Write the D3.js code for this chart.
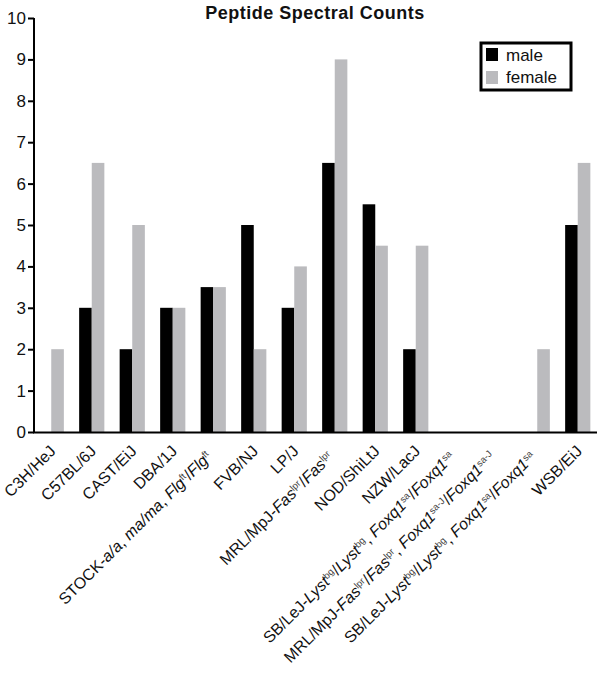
<!DOCTYPE html>
<html>
<head>
<meta charset="utf-8">
<script src="https://cdn.jsdelivr.net/npm/d3@7"></script>
<style>
  body { margin: 0; background: #fff; }
  text { font-family: "Liberation Sans", Arial, sans-serif; }
</style>
</head>
<body>
<div id="chart"></div>
<script>
// _x_ = italic, ^x^ = superscript
const strains = [
  'C3H/HeJ',
  'C57BL/6J',
  'CAST/EiJ',
  'DBA/1J',
  'STOCK-_a/a_, _ma/ma_, _Flg_^ft^/_Flg_^ft^',
  'FVB/NJ',
  'LP/J',
  'MRL/MpJ-_Fas_^lpr^/_Fas_^lpr^',
  'NOD/ShiLtJ',
  'NZW/LacJ',
  'SB/LeJ-_Lyst_^bg^/_Lyst_^bg^, _Foxq1_^sa^/_Foxq1_^sa^',
  'MRL/MpJ-_Fas_^lpr^/_Fas_^lpr^, _Foxq1_^sa-J^/_Foxq1_^sa-J^',
  'SB/LeJ-_Lyst_^bg^/_Lyst_^bg^, _Foxq1_^sa^/_Foxq1_^sa^',
  'WSB/EiJ'
];
const maleCounts = [0, 3, 2, 3, 3.5, 5, 3, 6.5, 5.5, 2, 0, 0, 0, 5];
const femaleCounts = [2, 6.5, 5, 3, 3.5, 2, 4, 9, 4.5, 4.5, 0, 0, 2, 6.5];
const series = ['male', 'female'];
const yTicks = [0, 1, 2, 3, 4, 5, 6, 7, 8, 9, 10];

const W = 602, H = 673;
const colors = { male: '#000000', female: '#bbbbbe' };

const svg = d3.select('#chart').append('svg')
  .attr('width', W)
  .attr('height', H);

const x = d3.scaleBand().domain(d3.range(strains.length)).range([31, 598]).padding(0);
const barW = 12.6;
const y = d3.scaleLinear().domain([0, 10]).range([432, 18]);

// title
svg.append('text')
  .attr('x', 315).attr('y', 19)
  .attr('text-anchor', 'middle')
  .style('font-size', '18px')
  .style('letter-spacing', '0.5px')
  .style('font-weight', 'bold')
  .attr('fill', '#111')
  .text('Peptide Spectral Counts');

// bars
const groups = svg.selectAll('.grp')
  .data(strains.map((s, i) => ({ i, male: maleCounts[i], female: femaleCounts[i] })))
  .enter().append('g')
  .attr('class', 'grp');

series.forEach((key, k) => {
  groups.filter(d => d[key] > 0)
    .append('rect')
    .attr('x', d => x(d.i) + x.bandwidth() / 2 - barW + k * barW)
    .attr('width', barW)
    .attr('y', d => y(d[key]))
    .attr('height', d => y(0) - y(d[key]))
    .attr('fill', colors[key]);
});

// y axis
const yAxis = svg.append('g')
  .attr('transform', 'translate(34,0)')
  .call(d3.axisLeft(y).tickValues(yTicks).tickSize(6).tickSizeOuter(0));
yAxis.select('.domain').attr('stroke-width', 2).attr('d', `M0,${y(10)}V${y(0) + 1}`);
yAxis.selectAll('.tick line').attr('stroke-width', 2);
yAxis.selectAll('.tick text')
  .attr('x', -8)
  .style('font-size', '17px')
  .attr('fill', '#111');

// x axis line
svg.append('line')
  .attr('x1', 33).attr('x2', 597)
  .attr('y1', y(0) + 0.5).attr('y2', y(0) + 0.5)
  .attr('stroke', '#000').attr('stroke-width', 2);

// x labels
const parseLabel = s => {
  const parts = [];
  let italic = false, sup = false, buf = '';
  const flush = () => { if (buf) parts.push({ t: buf, italic, sup }); buf = ''; };
  for (const ch of s) {
    if (ch === '_') { flush(); italic = !italic; }
    else if (ch === '^') { flush(); sup = !sup; }
    else buf += ch;
  }
  flush();
  return parts;
};

const labels = svg.selectAll('.xl')
  .data(strains)
  .enter().append('text')
  .attr('class', 'xl')
  .attr('text-anchor', 'end')
  .attr('transform', (d, i) => {
    const shift = d.includes('^') ? 6 : 0;
    return `translate(${x(i) + x.bandwidth() / 2 + 5.5 - shift},${y(0) + 20 + shift}) rotate(-45)`;
  })
  .style('font-size', '16px')
  .attr('fill', '#111');

labels.each(function (d) {
  const t = d3.select(this);
  parseLabel(d).forEach(p => {
    const sp = t.append('tspan').text(p.t);
    if (p.italic) sp.style('font-style', 'italic');
    if (p.sup) sp.attr('baseline-shift', 'super').style('font-size', '9.5px').attr('fill', '#444');
  });
});

// legend
const lg = svg.append('g').attr('transform', 'translate(481,43)');
lg.append('rect')
  .attr('width', 90).attr('height', 47)
  .attr('fill', '#fff').attr('stroke', '#000').attr('stroke-width', 3);
series.forEach((key, k) => {
  lg.append('rect')
    .attr('x', 5).attr('y', 5 + k * 23)
    .attr('width', 12).attr('height', 13)
    .attr('fill', colors[key]);
  lg.append('text')
    .attr('x', 25).attr('y', 18 + k * 22)
    .style('font-size', '17px')
    .attr('fill', '#111')
    .text(key);
});
</script>
</body>
</html>
